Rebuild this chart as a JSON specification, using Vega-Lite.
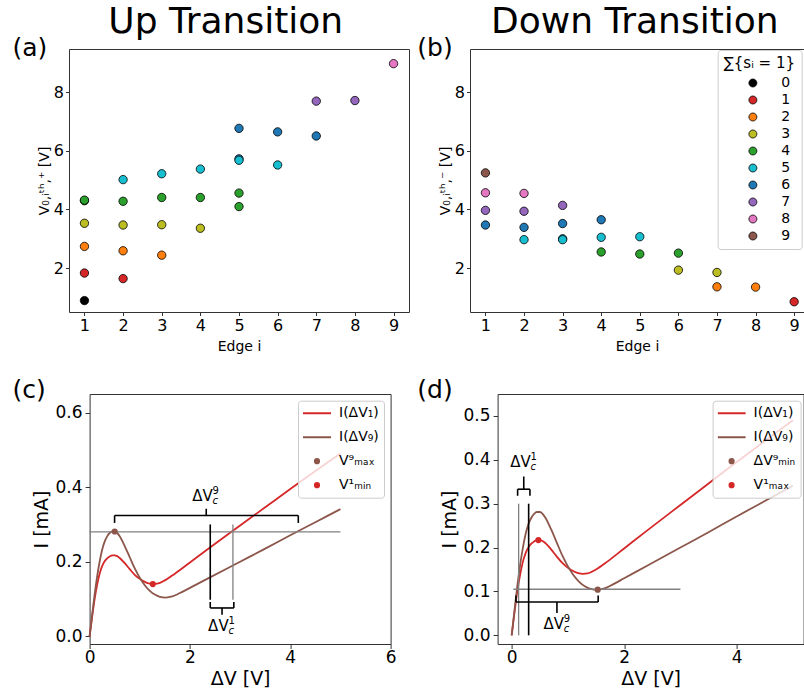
{
"$schema": "https://vega.github.io/schema/vega-lite/v6.json",
"padding": {"left": 11, "top": 3, "right": 0, "bottom": 0},
"config": {
  "font": "DejaVu Sans",
  "view": {"stroke": "#333333", "strokeWidth": 1},
  "axis": {"grid": false, "domain": false, "tickColor": "#333333", "tickWidth": 1, "labelColor": "#000000", "titleColor": "#000000", "titleFontWeight": "normal", "labelFlush": false, "labelOverlap": false},
  "legend": {"titleFontWeight": "normal", "labelColor": "#000000", "titleColor": "#000000"}
},
"datasets": {
  "up": [
    {"edge": 1, "v": 0.89, "n": 0}, {"edge": 1, "v": 1.83, "n": 1}, {"edge": 1, "v": 2.74, "n": 2}, {"edge": 1, "v": 3.53, "n": 3}, {"edge": 1, "v": 4.3, "n": 4}, {"edge": 1, "v": 4.32, "n": 4},
    {"edge": 2, "v": 1.64, "n": 1}, {"edge": 2, "v": 2.59, "n": 2}, {"edge": 2, "v": 3.47, "n": 3}, {"edge": 2, "v": 4.28, "n": 4}, {"edge": 2, "v": 5.02, "n": 5},
    {"edge": 3, "v": 2.44, "n": 2}, {"edge": 3, "v": 3.48, "n": 3}, {"edge": 3, "v": 4.41, "n": 4}, {"edge": 3, "v": 5.22, "n": 5},
    {"edge": 4, "v": 3.36, "n": 3}, {"edge": 4, "v": 4.41, "n": 4}, {"edge": 4, "v": 5.38, "n": 5},
    {"edge": 5, "v": 4.1, "n": 4}, {"edge": 5, "v": 4.56, "n": 4}, {"edge": 5, "v": 5.73, "n": 6}, {"edge": 5, "v": 5.68, "n": 5}, {"edge": 5, "v": 6.77, "n": 6},
    {"edge": 6, "v": 5.52, "n": 5}, {"edge": 6, "v": 6.65, "n": 6},
    {"edge": 7, "v": 6.51, "n": 6}, {"edge": 7, "v": 7.7, "n": 7},
    {"edge": 8, "v": 7.72, "n": 7},
    {"edge": 9, "v": 8.98, "n": 8}
  ],
  "down": [
    {"edge": 1, "v": 5.25, "n": 9}, {"edge": 1, "v": 4.57, "n": 8}, {"edge": 1, "v": 3.97, "n": 7}, {"edge": 1, "v": 3.47, "n": 6},
    {"edge": 2, "v": 4.55, "n": 8}, {"edge": 2, "v": 3.94, "n": 7}, {"edge": 2, "v": 3.39, "n": 6}, {"edge": 2, "v": 2.97, "n": 5},
    {"edge": 3, "v": 4.14, "n": 7}, {"edge": 3, "v": 3.52, "n": 6}, {"edge": 3, "v": 3.0, "n": 5}, {"edge": 3, "v": 2.97, "n": 5},
    {"edge": 4, "v": 3.65, "n": 6}, {"edge": 4, "v": 3.05, "n": 5}, {"edge": 4, "v": 2.55, "n": 4},
    {"edge": 5, "v": 3.07, "n": 5}, {"edge": 5, "v": 2.48, "n": 4},
    {"edge": 6, "v": 2.51, "n": 4}, {"edge": 6, "v": 1.93, "n": 3},
    {"edge": 7, "v": 1.85, "n": 3}, {"edge": 7, "v": 1.36, "n": 2},
    {"edge": 8, "v": 1.35, "n": 2},
    {"edge": 9, "v": 0.85, "n": 1}
  ],
  "curves": [
    {"s": "I(ΔV₁)", "x": 0, "y": 0}, {"s": "I(ΔV₁)", "x": 0.05, "y": 0.052}, {"s": "I(ΔV₁)", "x": 0.1, "y": 0.1}, {"s": "I(ΔV₁)", "x": 0.15, "y": 0.138}, {"s": "I(ΔV₁)", "x": 0.2, "y": 0.168}, {"s": "I(ΔV₁)", "x": 0.25, "y": 0.188}, {"s": "I(ΔV₁)", "x": 0.3, "y": 0.201}, {"s": "I(ΔV₁)", "x": 0.35, "y": 0.209}, {"s": "I(ΔV₁)", "x": 0.4, "y": 0.214}, {"s": "I(ΔV₁)", "x": 0.45, "y": 0.217}, {"s": "I(ΔV₁)", "x": 0.5, "y": 0.217}, {"s": "I(ΔV₁)", "x": 0.55, "y": 0.215}, {"s": "I(ΔV₁)", "x": 0.6, "y": 0.21}, {"s": "I(ΔV₁)", "x": 0.7, "y": 0.196}, {"s": "I(ΔV₁)", "x": 0.8, "y": 0.18}, {"s": "I(ΔV₁)", "x": 0.9, "y": 0.165}, {"s": "I(ΔV₁)", "x": 1.0, "y": 0.154}, {"s": "I(ΔV₁)", "x": 1.1, "y": 0.146}, {"s": "I(ΔV₁)", "x": 1.2, "y": 0.141}, {"s": "I(ΔV₁)", "x": 1.26, "y": 0.14}, {"s": "I(ΔV₁)", "x": 1.35, "y": 0.141}, {"s": "I(ΔV₁)", "x": 1.5, "y": 0.15}, {"s": "I(ΔV₁)", "x": 1.7, "y": 0.168}, {"s": "I(ΔV₁)", "x": 2.0, "y": 0.198}, {"s": "I(ΔV₁)", "x": 2.4, "y": 0.238}, {"s": "I(ΔV₁)", "x": 3.0, "y": 0.297}, {"s": "I(ΔV₁)", "x": 3.5, "y": 0.346}, {"s": "I(ΔV₁)", "x": 4.0, "y": 0.395}, {"s": "I(ΔV₁)", "x": 4.5, "y": 0.443}, {"s": "I(ΔV₁)", "x": 5.0, "y": 0.49},
    {"s": "I(ΔV₉)", "x": 0, "y": 0}, {"s": "I(ΔV₉)", "x": 0.05, "y": 0.056}, {"s": "I(ΔV₉)", "x": 0.1, "y": 0.112}, {"s": "I(ΔV₉)", "x": 0.15, "y": 0.16}, {"s": "I(ΔV₉)", "x": 0.2, "y": 0.2}, {"s": "I(ΔV₉)", "x": 0.25, "y": 0.232}, {"s": "I(ΔV₉)", "x": 0.3, "y": 0.254}, {"s": "I(ΔV₉)", "x": 0.35, "y": 0.268}, {"s": "I(ΔV₉)", "x": 0.4, "y": 0.277}, {"s": "I(ΔV₉)", "x": 0.45, "y": 0.281}, {"s": "I(ΔV₉)", "x": 0.5, "y": 0.281}, {"s": "I(ΔV₉)", "x": 0.55, "y": 0.277}, {"s": "I(ΔV₉)", "x": 0.6, "y": 0.268}, {"s": "I(ΔV₉)", "x": 0.7, "y": 0.242}, {"s": "I(ΔV₉)", "x": 0.8, "y": 0.212}, {"s": "I(ΔV₉)", "x": 0.9, "y": 0.182}, {"s": "I(ΔV₉)", "x": 1.0, "y": 0.157}, {"s": "I(ΔV₉)", "x": 1.1, "y": 0.137}, {"s": "I(ΔV₉)", "x": 1.2, "y": 0.122}, {"s": "I(ΔV₉)", "x": 1.3, "y": 0.112}, {"s": "I(ΔV₉)", "x": 1.4, "y": 0.106}, {"s": "I(ΔV₉)", "x": 1.52, "y": 0.104}, {"s": "I(ΔV₉)", "x": 1.65, "y": 0.107}, {"s": "I(ΔV₉)", "x": 1.8, "y": 0.116}, {"s": "I(ΔV₉)", "x": 2.0, "y": 0.13}, {"s": "I(ΔV₉)", "x": 2.4, "y": 0.158}, {"s": "I(ΔV₉)", "x": 3.0, "y": 0.2}, {"s": "I(ΔV₉)", "x": 3.5, "y": 0.235}, {"s": "I(ΔV₉)", "x": 4.0, "y": 0.271}, {"s": "I(ΔV₉)", "x": 4.5, "y": 0.306}, {"s": "I(ΔV₉)", "x": 5.0, "y": 0.341}
  ]
},
"resolve": {"scale": {"color": "independent", "fill": "independent", "stroke": "independent", "shape": "independent", "size": "independent"}, "legend": {"color": "independent", "fill": "independent", "stroke": "independent", "shape": "independent", "size": "independent"}},
"spacing": 23,
"vconcat": [
 {
  "hconcat": [
   {
    "width": 340, "height": 263,
    "encoding": {
      "x": {"field": "edge", "type": "quantitative", "scale": {"domain": [0.6, 9.4], "nice": false, "zero": false}, "axis": {"values": [1,2,3,4,5,6,7,8,9], "title": "Edge i", "titleFontSize": 14, "labelFontSize": 16, "tickSize": 3.5, "labelPadding": 2, "titlePadding": 5.7}},
      "y": {"field": "v", "type": "quantitative", "scale": {"domain": [0.5, 9.48], "nice": false, "zero": false}, "axis": {"values": [2,4,6,8], "title": "V₀,ᵢᵗʰ,⁺ [V]", "titleFontSize": 14, "labelFontSize": 16, "tickSize": 3.5, "labelPadding": 2, "titlePadding": 2}}
    },
    "layer": [
     {"data": {"name": "up"}, "mark": {"type": "circle", "size": 70, "opacity": 1, "stroke": "#000000", "strokeWidth": 0.8},
      "encoding": {"fill": {"field": "n", "type": "ordinal", "scale": {"domain": [0,1,2,3,4,5,6,7,8,9], "range": ["#000000", "#d62728", "#ff7f0e", "#bcbd22", "#2ca02c", "#17becf", "#1f77b4", "#9467bd", "#e377c2", "#8c564b"]}, "legend": null}}},
     {"data": {"values": [{"edge": -0.865, "v": 9.248, "t": "(a)"}]}, "mark": {"type": "text", "fontSize": 25, "align": "left", "baseline": "alphabetic", "color": "#000000"},
      "encoding": {"text": {"field": "t"}}},
     {"data": {"values": [{"edge": 4.657, "v": 10.01, "t": "Up Transition"}]}, "mark": {"type": "text", "fontSize": 36, "align": "center", "baseline": "alphabetic", "color": "#000000"},
      "encoding": {"text": {"field": "t"}}}
    ]
   },
   {
    "width": 334, "height": 263,
    "encoding": {
      "x": {"field": "edge", "type": "quantitative", "scale": {"domain": [0.6, 9.255], "nice": false, "zero": false}, "axis": {"values": [1,2,3,4,5,6,7,8,9], "title": "Edge i", "titleFontSize": 14, "labelFontSize": 16, "tickSize": 3.5, "labelPadding": 2, "titlePadding": 5.7}},
      "y": {"field": "v", "type": "quantitative", "scale": {"domain": [0.5, 9.48], "nice": false, "zero": false}, "axis": {"values": [2,4,6,8], "title": "V₀,ᵢᵗʰ,⁻ [V]", "titleFontSize": 14, "labelFontSize": 16, "tickSize": 3.5, "labelPadding": 2, "titlePadding": 2}}
    },
    "layer": [
     {"data": {"name": "down"}, "mark": {"type": "circle", "size": 70, "opacity": 1, "stroke": "#000000", "strokeWidth": 0.8},
      "encoding": {"fill": {"field": "n", "type": "ordinal", "scale": {"domain": [0,1,2,3,4,5,6,7,8,9], "range": ["#000000", "#d62728", "#ff7f0e", "#bcbd22", "#2ca02c", "#17becf", "#1f77b4", "#9467bd", "#e377c2", "#8c564b"]},
        "legend": {"title": "∑{sᵢ = 1}", "orient": "none", "legendX": 247.7, "legendY": 1, "padding": 6, "titleFontSize": 15, "titlePadding": 5, "labelFontSize": 14, "symbolType": "M6.55,0A1,1,0,1,1,4.55,0A1,1,0,1,1,6.55,0Z", "symbolSize": 64, "symbolStrokeColor": "#000000", "symbolStrokeWidth": 0.8, "labelOffset": 43.5, "rowPadding": 3, "fillColor": "rgba(255,255,255,0.8)", "strokeColor": "#cccccc", "cornerRadius": 3}}}},
     {"data": {"values": [{"edge": -0.766, "v": 9.248, "t": "(b)"}]}, "mark": {"type": "text", "fontSize": 25, "align": "left", "baseline": "alphabetic", "color": "#000000"},
      "encoding": {"text": {"field": "t"}}},
     {"data": {"values": [{"edge": 4.872, "v": 10.01, "t": "Down Transition"}]}, "mark": {"type": "text", "fontSize": 36, "align": "center", "baseline": "alphabetic", "color": "#000000"},
      "encoding": {"text": {"field": "t"}}}
    ]
   }
  ],
  "spacing": 61,
  "bounds": "flush",
  "resolve": {"scale": {"color": "independent", "fill": "independent", "stroke": "independent", "shape": "independent", "size": "independent"}, "legend": {"color": "independent", "fill": "independent", "stroke": "independent", "shape": "independent", "size": "independent"}}
 },
 {
  "hconcat": [
   {
    "width": 1, "height": 250,
    "view": {"stroke": null},
    "data": {"values": []},
    "mark": {"type": "point", "opacity": 0},
    "encoding": {"x": {"field": "edge", "type": "quantitative", "axis": null}, "y": {"field": "v", "type": "quantitative", "axis": null}}
   },
   {
    "hconcat": [
     {
      "width": 301, "height": 250,
      "encoding": {
        "x": {"field": "x", "type": "quantitative", "scale": {"domain": [0, 6], "nice": false, "zero": false}, "axis": {"values": [0,2,4,6], "title": "ΔV [V]", "titleFontSize": 19, "labelFontSize": 17, "tickSize": 4.5, "labelPadding": 1, "titlePadding": 4}},
        "y": {"field": "y", "type": "quantitative", "scale": {"domain": [-0.0206, 0.6497], "nice": false, "zero": false}, "axis": {"values": [0, 0.2, 0.4, 0.6], "format": ".1f", "title": "I [mA]", "titleFontSize": 19, "labelFontSize": 17, "tickSize": 4.5, "labelPadding": 3, "titlePadding": 4}}
      },
      "layer": [
       {"data": {"name": "curves"}, "mark": {"type": "line", "strokeWidth": 1.8, "interpolate": "monotone"},
        "encoding": {"stroke": {"field": "s", "type": "nominal", "scale": {"domain": ["I(ΔV₁)", "I(ΔV₉)"], "range": ["#d62728", "#8c564b"]}, "legend": null}}},
       {"data": {"values": [{"x": 0, "x2": 5, "y": 0.28, "y2": 0.28}, {"x": 2.857, "x2": 2.857, "y": 0.098, "y2": 0.3}]},
        "mark": {"type": "rule", "color": "#808080", "strokeWidth": 1.3},
        "encoding": {"x2": {"field": "x2"}, "y2": {"field": "y2"}}},
       {"data": {"values": [
          {"x": 2.405, "x2": 2.405, "y": 0.098, "y2": 0.3},
          {"x": 0.498, "x2": 4.16, "y": 0.324, "y2": 0.324}, {"x": 0.498, "x2": 0.498, "y": 0.304, "y2": 0.324}, {"x": 4.16, "x2": 4.16, "y": 0.304, "y2": 0.324}, {"x": 2.325, "x2": 2.325, "y": 0.324, "y2": 0.342},
          {"x": 2.405, "x2": 2.875, "y": 0.076, "y2": 0.076}, {"x": 2.405, "x2": 2.405, "y": 0.076, "y2": 0.092}, {"x": 2.875, "x2": 2.875, "y": 0.076, "y2": 0.092}, {"x": 2.64, "x2": 2.64, "y": 0.058, "y2": 0.076}
        ]},
        "mark": {"type": "rule", "color": "#000000", "strokeWidth": 1.6},
        "encoding": {"x2": {"field": "x2"}, "y2": {"field": "y2"}}},
       {"data": {"values": [{"s": "V⁹ₘₐₓ", "x": 0.5, "y": 0.281}, {"s": "V¹ₘᵢₙ", "x": 1.26, "y": 0.14}]},
        "mark": {"type": "point", "filled": true, "opacity": 1},
        "encoding": {
          "color": {"field": "s", "type": "nominal", "scale": {"domain": ["I(ΔV₁)", "I(ΔV₉)", "V⁹ₘₐₓ", "V¹ₘᵢₙ"], "range": ["#d62728", "#8c564b", "#8c564b", "#d62728"]},
            "legend": {"title": null, "orient": "none", "legendX": 208.4, "legendY": 6.7, "padding": 5, "labelFontSize": 14, "labelOffset": 8, "rowPadding": 9, "clipHeight": 15, "symbolStrokeWidth": 0, "fillColor": "rgba(255,255,255,0.8)", "strokeColor": "#cccccc", "cornerRadius": 3}},
          "shape": {"field": "s", "type": "nominal", "scale": {"domain": ["I(ΔV₁)", "I(ΔV₉)", "V⁹ₘₐₓ", "V¹ₘᵢₙ"], "range": ["M-1,-0.07L1,-0.07L1,0.07L-1,0.07Z", "M-1,-0.07L1,-0.07L1,0.07L-1,0.07Z", "circle", "circle"]},
            "legend": {"title": null, "orient": "none", "legendX": 208.4, "legendY": 6.7, "padding": 5, "labelFontSize": 14, "labelOffset": 8, "rowPadding": 9, "clipHeight": 15, "symbolStrokeWidth": 0, "fillColor": "rgba(255,255,255,0.8)", "strokeColor": "#cccccc", "cornerRadius": 3}},
          "size": {"field": "s", "type": "nominal", "scale": {"type": "ordinal", "domain": ["I(ΔV₁)", "I(ΔV₉)", "V⁹ₘₐₓ", "V¹ₘᵢₙ"], "range": [784, 784, 38, 38]},
            "legend": {"title": null, "orient": "none", "legendX": 208.4, "legendY": 6.7, "padding": 5, "labelFontSize": 14, "labelOffset": 8, "rowPadding": 9, "clipHeight": 15, "symbolStrokeWidth": 0, "fillColor": "rgba(255,255,255,0.8)", "strokeColor": "#cccccc", "cornerRadius": 3}}
        }},
       {"data": {"values": [{"x": 2.32, "y": 0.3635, "sup": "9"}, {"x": 2.637, "y": 0.0153, "sup": "1"}]},
        "layer": [
          {"mark": {"type": "text", "text": "ΔV", "fontSize": 15, "align": "center", "baseline": "alphabetic", "dx": -3.5}},
          {"mark": {"type": "text", "fontSize": 10, "align": "left", "baseline": "alphabetic", "dx": 6.5, "dy": -7}, "encoding": {"text": {"field": "sup"}}},
          {"mark": {"type": "text", "text": "c", "fontSize": 10, "fontStyle": "italic", "align": "left", "baseline": "alphabetic", "dx": 6.5, "dy": 3}}
        ]},
       {"data": {"values": [{"x": -1.535, "y": 0.64, "t": "(c)"}]}, "mark": {"type": "text", "fontSize": 25, "align": "left", "baseline": "alphabetic", "color": "#000000"},
        "encoding": {"text": {"field": "t"}}}
      ]
     },
     {
      "width": 306, "height": 250,
      "encoding": {
        "x": {"field": "x", "type": "quantitative", "scale": {"domain": [-0.25, 5.19], "nice": false, "zero": false}, "axis": {"values": [0,2,4], "title": "ΔV [V]", "titleFontSize": 19, "labelFontSize": 17, "tickSize": 4.5, "labelPadding": 1, "titlePadding": 4}},
        "y": {"field": "y", "type": "quantitative", "scale": {"domain": [-0.0198, 0.55], "nice": false, "zero": false}, "axis": {"values": [0, 0.1, 0.2, 0.3, 0.4, 0.5], "format": ".1f", "title": "I [mA]", "titleFontSize": 19, "labelFontSize": 17, "tickSize": 4.5, "labelPadding": 3, "titlePadding": 4}}
      },
      "layer": [
       {"data": {"name": "curves"}, "mark": {"type": "line", "strokeWidth": 1.8, "interpolate": "monotone"},
        "encoding": {"stroke": {"field": "s", "type": "nominal", "scale": {"domain": ["I(ΔV₁)", "I(ΔV₉)"], "range": ["#d62728", "#8c564b"]}, "legend": null}}},
       {"data": {"values": [{"x": 0.03, "x2": 3.0, "y": 0.105, "y2": 0.105}, {"x": 0.124, "x2": 0.124, "y": 0, "y2": 0.3}]},
        "mark": {"type": "rule", "color": "#808080", "strokeWidth": 1.3},
        "encoding": {"x2": {"field": "x2"}, "y2": {"field": "y2"}}},
       {"data": {"values": [
          {"x": 0.302, "x2": 0.302, "y": 0, "y2": 0.3},
          {"x": 0.106, "x2": 0.325, "y": 0.333, "y2": 0.333}, {"x": 0.106, "x2": 0.106, "y": 0.318, "y2": 0.333}, {"x": 0.325, "x2": 0.325, "y": 0.318, "y2": 0.333}, {"x": 0.215, "x2": 0.215, "y": 0.333, "y2": 0.362},
          {"x": 0.076, "x2": 1.538, "y": 0.076, "y2": 0.076}, {"x": 0.076, "x2": 0.076, "y": 0.076, "y2": 0.091}, {"x": 1.538, "x2": 1.538, "y": 0.076, "y2": 0.091}, {"x": 0.805, "x2": 0.805, "y": 0.051, "y2": 0.076}
        ]},
        "mark": {"type": "rule", "color": "#000000", "strokeWidth": 1.6},
        "encoding": {"x2": {"field": "x2"}, "y2": {"field": "y2"}}},
       {"data": {"values": [{"s": "ΔV⁹ₘᵢₙ", "x": 1.53, "y": 0.104}, {"s": "V¹ₘₐₓ", "x": 0.475, "y": 0.217}]},
        "mark": {"type": "point", "filled": true, "opacity": 1},
        "encoding": {
          "color": {"field": "s", "type": "nominal", "scale": {"domain": ["I(ΔV₁)", "I(ΔV₉)", "ΔV⁹ₘᵢₙ", "V¹ₘₐₓ"], "range": ["#d62728", "#8c564b", "#8c564b", "#d62728"]},
            "legend": {"title": null, "orient": "none", "legendX": 215, "legendY": 6.7, "padding": 5, "labelFontSize": 14, "labelOffset": 8, "rowPadding": 9, "clipHeight": 15, "symbolStrokeWidth": 0, "fillColor": "rgba(255,255,255,0.8)", "strokeColor": "#cccccc", "cornerRadius": 3}},
          "shape": {"field": "s", "type": "nominal", "scale": {"domain": ["I(ΔV₁)", "I(ΔV₉)", "ΔV⁹ₘᵢₙ", "V¹ₘₐₓ"], "range": ["M-1,-0.07L1,-0.07L1,0.07L-1,0.07Z", "M-1,-0.07L1,-0.07L1,0.07L-1,0.07Z", "circle", "circle"]},
            "legend": {"title": null, "orient": "none", "legendX": 215, "legendY": 6.7, "padding": 5, "labelFontSize": 14, "labelOffset": 8, "rowPadding": 9, "clipHeight": 15, "symbolStrokeWidth": 0, "fillColor": "rgba(255,255,255,0.8)", "strokeColor": "#cccccc", "cornerRadius": 3}},
          "size": {"field": "s", "type": "nominal", "scale": {"type": "ordinal", "domain": ["I(ΔV₁)", "I(ΔV₉)", "ΔV⁹ₘᵢₙ", "V¹ₘₐₓ"], "range": [784, 784, 38, 38]},
            "legend": {"title": null, "orient": "none", "legendX": 215, "legendY": 6.7, "padding": 5, "labelFontSize": 14, "labelOffset": 8, "rowPadding": 9, "clipHeight": 15, "symbolStrokeWidth": 0, "fillColor": "rgba(255,255,255,0.8)", "strokeColor": "#cccccc", "cornerRadius": 3}}
        }},
       {"data": {"values": [{"x": 0.218, "y": 0.383, "sup": "1"}, {"x": 0.81, "y": 0.0153, "sup": "9"}]},
        "layer": [
          {"mark": {"type": "text", "text": "ΔV", "fontSize": 15, "align": "center", "baseline": "alphabetic", "dx": -3.5}},
          {"mark": {"type": "text", "fontSize": 10, "align": "left", "baseline": "alphabetic", "dx": 6.5, "dy": -7}, "encoding": {"text": {"field": "sup"}}},
          {"mark": {"type": "text", "text": "c", "fontSize": 10, "fontStyle": "italic", "align": "left", "baseline": "alphabetic", "dx": 6.5, "dy": 3}}
        ]},
       {"data": {"values": [{"x": -1.678, "y": 0.5417, "t": "(d)"}]}, "mark": {"type": "text", "fontSize": 25, "align": "left", "baseline": "alphabetic", "color": "#000000"},
        "encoding": {"text": {"field": "t"}}}
      ]
     }
    ],
    "spacing": 107,
    "bounds": "flush",
    "resolve": {"scale": {"color": "independent", "fill": "independent", "stroke": "independent", "shape": "independent", "size": "independent"}, "legend": {"color": "independent", "fill": "independent", "stroke": "independent", "shape": "independent", "size": "independent"}}
   }
  ],
  "spacing": 19.6,
  "bounds": "flush",
  "resolve": {"scale": {"color": "independent", "fill": "independent", "stroke": "independent", "shape": "independent", "size": "independent"}, "legend": {"color": "independent", "fill": "independent", "stroke": "independent", "shape": "independent", "size": "independent"}}
 }
]
}
